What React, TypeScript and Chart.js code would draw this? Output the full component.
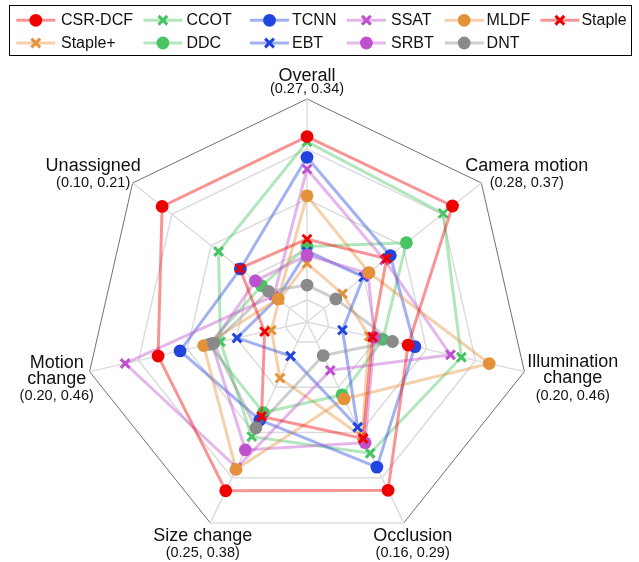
import React, { useEffect, useRef } from "react";
import { Chart, registerables } from "chart.js";

Chart.register(...registerables);

// ---- data ----
const attributeNames = [
  "Overall",
  "Camera motion",
  "Illumination change",
  "Occlusion",
  "Size change",
  "Motion change",
  "Unassigned",
];
const rangeLow = [0.27, 0.28, 0.2, 0.16, 0.25, 0.2, 0.1];
const rangeHigh = [0.34, 0.37, 0.46, 0.29, 0.38, 0.46, 0.21];
const gridLevels = [0, 0.1, 0.325, 0.55, 0.775, 1];

const trackerNames = ["CSR-DCF", "Staple+", "CCOT", "DDC", "TCNN", "EBT", "SSAT", "SRBT", "MLDF", "DNT", "Staple"];

const csrDcf = [0.3282, 0.3551, 0.3209, 0.2689, 0.3592, 0.3781, 0.1914];
const staplePlus = [0.2884, 0.2983, 0.2744, 0.2341, 0.2863, 0.2426, 0.1176];
const ccot = [0.3266, 0.3503, 0.3846, 0.2449, 0.3242, 0.3035, 0.1558];
const ddc = [0.2937, 0.3313, 0.2907, 0.2071, 0.3086, 0.3175, 0.1287];
const tcnn = [0.3217, 0.323, 0.329, 0.2539, 0.3134, 0.3518, 0.142];
const ebt = [0.2921, 0.3092, 0.2424, 0.2281, 0.2721, 0.2837, 0.1187];
const ssat = [0.318, 0.3201, 0.3716, 0.1913, 0.3443, 0.4174, 0.1209];
const srbt = [0.291, 0.3115, 0.2806, 0.2381, 0.3328, 0.3136, 0.1325];
const mldf = [0.3096, 0.312, 0.4179, 0.2098, 0.3454, 0.3235, 0.1182];
const dnt = [0.2816, 0.2949, 0.3022, 0.1817, 0.3186, 0.3118, 0.1243];
const staple = [0.296, 0.3211, 0.2783, 0.2354, 0.3111, 0.2507, 0.1424];

const trackerScores = [csrDcf, staplePlus, ccot, ddc, tcnn, ebt, ssat, srbt, mldf, dnt, staple];

// ---- styles ----
const RED = [238, 0, 0];
const GREEN = [72, 196, 98];
const BLUE = [34, 68, 222];
const PURPLE = [190, 82, 206];
const ORANGE = [228, 146, 58];
const GRAY = [138, 138, 138];

const trackerStyle = [
  { rgb: RED, marker: "circle" },
  { rgb: ORANGE, marker: "crossRot" },
  { rgb: GREEN, marker: "crossRot" },
  { rgb: GREEN, marker: "circle" },
  { rgb: BLUE, marker: "circle" },
  { rgb: BLUE, marker: "crossRot" },
  { rgb: PURPLE, marker: "crossRot" },
  { rgb: PURPLE, marker: "circle" },
  { rgb: ORANGE, marker: "circle" },
  { rgb: GRAY, marker: "circle" },
  { rgb: RED, marker: "crossRot" },
];

const FONT = '"Liberation Sans", Arial, Helvetica, sans-serif';
const LINE_ALPHA = 0.42;
const CIRCLE_R = 6.4;
const CROSS_R = 6.2;
const CROSS_W = 3;

const rgba = (c: number[], a: number) => `rgba(${c[0]},${c[1]},${c[2]},${a})`;

const labelLayout = [
  { dx: 0, base: [-18.5, -6], split: false },
  { dx: 45.4, base: [-12, 4.5], split: false },
  { dx: 48.3, base: [-4.3, 11.4, 28.4], split: true },
  { dx: 8.9, base: [18.1, 34.1], split: false },
  { dx: -7.5, base: [18.1, 34.1], split: false },
  { dx: -32.9, base: [-3.9, 11.9, 28.4], split: true },
  { dx: -39.5, base: [-11.5, 4.5], split: false },
];

const frameFixPlugin = {
  id: "frameFix",
  beforeDatasetsDraw(chart: any) {
    const r = chart.scales.r;
    const a = r.getPointPositionForValue(3, 1);
    const b = r.getPointPositionForValue(4, 1);
    const ctx = chart.ctx;
    ctx.save();
    ctx.beginPath();
    ctx.moveTo(a.x, a.y);
    ctx.lineTo(b.x, b.y);
    ctx.strokeStyle = "#ffffff";
    ctx.lineWidth = 2.5;
    ctx.stroke();
    ctx.beginPath();
    ctx.moveTo(a.x, a.y);
    ctx.lineTo(b.x, b.y);
    ctx.strokeStyle = "#dcdcdc";
    ctx.lineWidth = 1.5;
    ctx.stroke();
    ctx.restore();
  },
};

const axisLabelPlugin = {
  id: "axisLabels",
  afterDraw(chart: any) {
    const r = chart.scales.r;
    const ctx = chart.ctx;
    ctx.save();
    ctx.fillStyle = "#111";
    ctx.textAlign = "center";
    ctx.textBaseline = "alphabetic";
    attributeNames.forEach((name, i) => {
      const v = r.getPointPositionForValue(i, 1);
      const lay = labelLayout[i];
      const nameLines = lay.split ? name.split(" ") : [name];
      const lines = [...nameLines, `(${rangeLow[i].toFixed(2)}, ${rangeHigh[i].toFixed(2)})`];
      lines.forEach((txt, k) => {
        const isRange = k === lines.length - 1;
        ctx.font = isRange ? `14.5px ${FONT}` : `18px ${FONT}`;
        ctx.fillText(txt, v.x + lay.dx, v.y + lay.base[k]);
      });
    });
    ctx.restore();
  },
};

const legendMarkerX = [35.8, 162.9, 269.5, 366.4, 464.2, 559.9];
const legendTextX = [61, 186.5, 292, 391, 486.6, 581.4];
const legendRowY = [20.3, 43];

const legendPlugin = {
  id: "boxLegend",
  afterDraw(chart: any) {
    const ctx = chart.ctx;
    ctx.save();
    ctx.strokeStyle = "#000";
    ctx.lineWidth = 1;
    ctx.strokeRect(9.5, 5.5, 622, 50);
    chart.data.datasets.forEach((ds: any, i: number) => {
      const col = Math.floor(i / 2);
      const row = i % 2;
      const mx = legendMarkerX[col];
      const my = legendRowY[row];
      const st = trackerStyle[i];
      ctx.beginPath();
      ctx.moveTo(mx - 19.5, my);
      ctx.lineTo(mx + 19.5, my);
      ctx.strokeStyle = rgba(st.rgb, LINE_ALPHA);
      ctx.lineWidth = 3;
      ctx.stroke();
      if (st.marker === "circle") {
        ctx.beginPath();
        ctx.arc(mx, my, CIRCLE_R, 0, Math.PI * 2);
        ctx.fillStyle = rgba(st.rgb, 1);
        ctx.fill();
      } else {
        const o = CROSS_R * Math.SQRT1_2;
        ctx.beginPath();
        ctx.moveTo(mx - o, my - o);
        ctx.lineTo(mx + o, my + o);
        ctx.moveTo(mx + o, my - o);
        ctx.lineTo(mx - o, my + o);
        ctx.strokeStyle = rgba(st.rgb, 1);
        ctx.lineWidth = CROSS_W;
        ctx.stroke();
      }
      ctx.fillStyle = "#111";
      ctx.font = `16px ${FONT}`;
      ctx.textAlign = "left";
      ctx.textBaseline = "middle";
      ctx.fillText(ds.label, legendTextX[col], my + 0.5);
    });
    ctx.restore();
  },
};

export default function App() {
  const canvasRef = useRef<HTMLCanvasElement | null>(null);

  useEffect(() => {
    if (!canvasRef.current) return;
    const datasets = trackerNames.map((name, i) => {
      const st = trackerStyle[i];
      const isCircle = st.marker === "circle";
      return {
        label: name,
        data: trackerScores[i].map((v, k) => (v - rangeLow[k]) / (rangeHigh[k] - rangeLow[k])),
        borderColor: rgba(st.rgb, LINE_ALPHA),
        backgroundColor: "rgba(0,0,0,0)",
        borderWidth: 3,
        fill: false,
        pointStyle: st.marker,
        pointRadius: isCircle ? CIRCLE_R : CROSS_R,
        pointHoverRadius: isCircle ? CIRCLE_R : CROSS_R,
        pointBackgroundColor: rgba(st.rgb, 1),
        pointBorderColor: rgba(st.rgb, 1),
        pointBorderWidth: isCircle ? 0 : CROSS_W,
        order: i === 0 ? 0 : 11 - i,
      };
    });

    const chart = new Chart(canvasRef.current, {
      type: "radar",
      data: { labels: attributeNames, datasets },
      options: {
        responsive: true,
        maintainAspectRatio: false,
        animation: false,
        layout: { padding: { left: 84, right: 109, top: 99, bottom: 17 } },
        plugins: { legend: { display: false }, tooltip: { enabled: false } },
        elements: { line: { tension: 0 } },
        scales: {
          r: {
            min: 0,
            max: 1,
            afterBuildTicks: (scale: any) => {
              scale.ticks = gridLevels.map((v) => ({ value: v }));
            },
            ticks: { display: false },
            pointLabels: { display: false },
            grid: {
              color: (c: any) => (c.tick && c.tick.value >= 1 ? "#707070" : "#dcdcdc"),
              lineWidth: (c: any) => (c.tick && c.tick.value >= 1 ? 1 : 1.5),
            },
            angleLines: { color: "#dcdcdc", lineWidth: 1.5 },
          },
        },
      } as any,
      plugins: [frameFixPlugin, axisLabelPlugin, legendPlugin],
    });
    return () => chart.destroy();
  }, []);

  return (
    <div style={{ position: "fixed", left: 0, top: 0, width: 639, height: 562, background: "#fff" }}>
      <canvas ref={canvasRef} />
    </div>
  );
}
